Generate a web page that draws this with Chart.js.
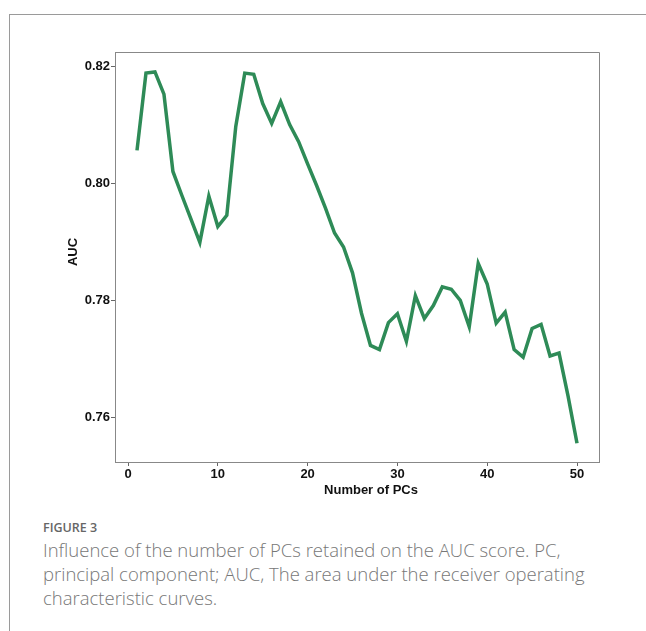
<!DOCTYPE html>
<html>
<head>
<meta charset="utf-8">
<script src="https://cdn.jsdelivr.net/npm/chart.js@4"></script>
<style>
  html, body { margin: 0; padding: 0; background: #fff; }
  body { width: 646px; height: 631px; position: relative; overflow: hidden; }
  .frame {
    position: absolute; left: 9px; top: 14px; right: 0; bottom: 0;
    border-top: 1px solid #9a9a9a; border-left: 1px solid #9a9a9a;
  }
  #auc-chart { position: absolute; left: 0; top: 0; }
  .caption {
    position: absolute; left: 43px; top: 517px; width: 600px;
    font-family: "Open Sans", sans-serif; color: #777;
  }
  .caption .label { font-size: 12.5px; font-weight: 600; color: #666; line-height: 21px; }
  .caption .text { font-size: 18.5px; font-weight: 300; line-height: 24px; }
</style>
</head>
<body>
<div class="frame"></div>
<canvas id="auc-chart" width="646" height="505"></canvas>
<div class="caption">
  <div class="label">FIGURE 3</div>
  <div class="text">Influence of the number of PCs retained on the AUC score. PC,<br>principal component; AUC, The area under the receiver operating<br>characteristic curves.</div>
</div>
<script>
const Chart = window.Chart;

// number of principal components kept
const numPCs = [
  1, 2, 3, 4, 5, 6, 7, 8, 9, 10,
  11, 12, 13, 14, 15, 16, 17, 18, 19, 20,
  21, 22, 23, 24, 25, 26, 27, 28, 29, 30,
  31, 32, 33, 34, 35, 36, 37, 38, 39, 40,
  41, 42, 43, 44, 45, 46, 47, 48, 49, 50,
];

// AUC score
const aucScores = [
  0.8056, 0.8188, 0.8190, 0.8152, 0.8020, 0.7979, 0.7939, 0.7899, 0.7978, 0.7926,
  0.7945, 0.8097, 0.8188, 0.8186, 0.8136, 0.8102, 0.8139, 0.8100, 0.8071, 0.8033,
  0.7996, 0.7957, 0.7915, 0.7891, 0.7847, 0.7778, 0.7723, 0.7716, 0.7762, 0.7777,
  0.7730, 0.7808, 0.7769, 0.7791, 0.7823, 0.7819, 0.7800, 0.7755, 0.7863, 0.7828,
  0.7761, 0.7780, 0.7716, 0.7703, 0.7752, 0.7759, 0.7705, 0.7710, 0.7637, 0.7556,
];

const xTicks = [0, 10, 20, 30, 40, 50];
const yTicks = [0.76, 0.78, 0.8, 0.82];

const tickFont = { family: "'Liberation Sans', Arial, sans-serif", size: 13, weight: "bold" };

// box round the plot + axis titles (x title sits a bit right of centre in the original)
const framePlugin = {
  id: "frameAndTitles",
  afterDraw(chart) {
    const { ctx, chartArea: a } = chart;
    ctx.save();
    ctx.strokeStyle = "#888";
    ctx.lineWidth = 1;
    ctx.beginPath();
    ctx.moveTo(a.left, a.top + 0.5);
    ctx.lineTo(a.right + 0.5, a.top + 0.5);
    ctx.lineTo(a.right + 0.5, a.bottom);
    ctx.stroke();

    ctx.fillStyle = "#111";
    ctx.font = "bold 13px 'Liberation Sans', Arial, sans-serif";
    ctx.textAlign = "center";
    ctx.textBaseline = "middle";
    ctx.fillText("Number of PCs", (a.left + a.right) / 2 + 14, a.bottom + 28);

    ctx.translate(a.left - 42, (a.top + a.bottom) / 2 - 5);
    ctx.rotate(-Math.PI / 2);
    ctx.fillText("AUC", 0, 0);
    ctx.restore();
  },
};

new Chart(document.getElementById("auc-chart"), {
  type: "line",
  data: {
    datasets: [
      {
        label: "AUC",
        data: numPCs.map((n, i) => ({ x: n, y: aucScores[i] })),
        borderColor: "#2e8b57",
        borderWidth: 3.5,
        pointRadius: 0,
        tension: 0,
        fill: false,
      },
    ],
  },
  options: {
    responsive: false,
    animation: false,
    layout: { padding: { left: 0, right: 47, top: 52, bottom: 0 } },
    plugins: {
      legend: { display: false },
      tooltip: { enabled: false },
    },
    scales: {
      x: {
        type: "linear",
        min: -1.45,
        max: 52.45,
        afterBuildTicks: (s) => { s.ticks = xTicks.map((v) => ({ value: v })); },
        afterFit: (s) => { s.height = 43; },
        ticks: {
          color: "#111",
          font: tickFont,
          padding: 1,
          maxRotation: 0,
          callback: (v) => String(v),
        },
        grid: { drawOnChartArea: false, drawTicks: true, tickLength: 4, color: "#666" },
        border: { color: "#888", width: 1 },
      },
      y: {
        type: "linear",
        min: 0.7524,
        max: 0.8224,
        afterBuildTicks: (s) => { s.ticks = yTicks.map((v) => ({ value: v })); },
        afterFit: (s) => { s.width = 115; },
        ticks: {
          color: "#111",
          font: tickFont,
          padding: 1,
          callback: (v) => v.toFixed(2),
        },
        grid: { drawOnChartArea: false, drawTicks: true, tickLength: 4, color: "#666" },
        border: { color: "#888", width: 1 },
      },
    },
  },
  plugins: [framePlugin],
});
</script>
</body>
</html>
